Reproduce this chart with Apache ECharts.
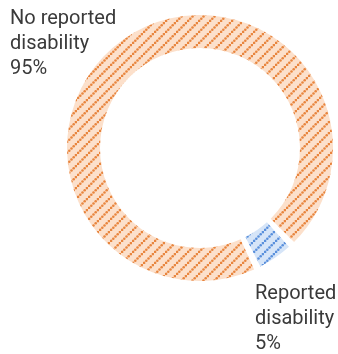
<!DOCTYPE html>
<html>
<head>
<meta charset="utf-8">
<script src="https://cdn.jsdelivr.net/npm/echarts@6/dist/echarts.min.js"></script>
<style>
html,body{margin:0;padding:0;background:#fff;}
#c{width:338px;height:354px;}
</style>
</head>
<body>
<div id="c"></div>
<script>
// Data
var categories = ['Reported disability', 'No reported disability'];
var labelLines = [['Reported', 'disability'], ['No reported', 'disability']];
var values = [5, 95];

function makePattern(bg, dot) {
  var T = 11;
  var cv = document.createElement('canvas');
  cv.width = T; cv.height = T;
  var ctx = cv.getContext('2d');
  ctx.fillStyle = bg;
  ctx.fillRect(0, 0, T, T);
  ctx.fillStyle = dot;
  for (var k = -1; k <= 5; k++) {
    var x = 1.1 + 2.2 * k;
    var y = T - x;
    ctx.beginPath();
    ctx.arc(x, y, 1.3, 0, Math.PI*2);
    ctx.fill();
  }
  return cv;
}

var blueFill = makePattern('#d6e5f8', '#5a90dc');
var orangeFill = makePattern('#fce0cb', '#e8853e');
var fills = [blueFill, orangeFill];

var chart = echarts.init(document.getElementById('c'), null, {renderer: 'canvas'});

var txtStyle = {fontFamily: 'Roboto', fontSize: 20, lineHeight: 25, fill: '#3a3a3a'};
function labelText(i) {
  return labelLines[i].concat([values[i] + '%']).join('\n');
}

chart.setOption({
  animation: false,
  series: [{
    type: 'pie',
    center: [200, 148],
    radius: [100, 133],
    startAngle: -46.5,
    clockwise: true,
    padAngle: 3,
    label: {show: false},
    labelLine: {show: false},
    emphasis: {disabled: true},
    silent: true,
    data: values.map(function(v, i){
      return {name: categories[i], value: v, itemStyle: {color: {image: fills[i], repeat: 'repeat'}}};
    })
  }],
  graphic: [
    {type: 'text', left: 10, top: 6, style: Object.assign({text: labelText(1)}, txtStyle)},
    {type: 'text', left: 255, top: 281, style: Object.assign({text: labelText(0)}, txtStyle)}
  ]
});
</script>
</body>
</html>
